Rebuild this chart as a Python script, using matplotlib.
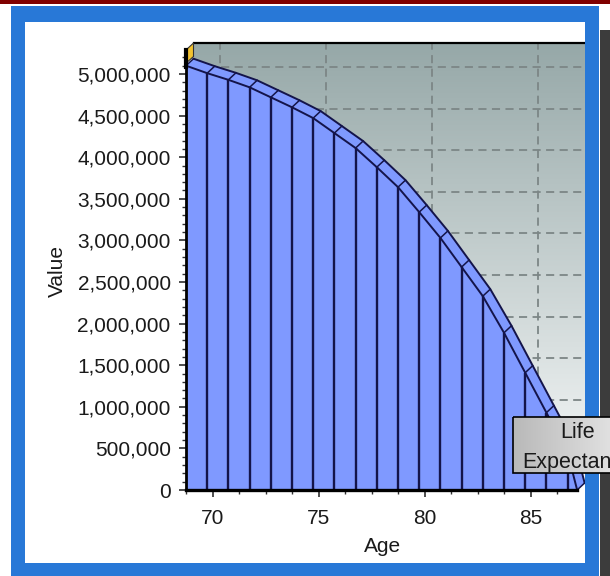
import numpy as np
import matplotlib
matplotlib.use('Agg')
import matplotlib.pyplot as plt
from matplotlib.ticker import FixedLocator, FuncFormatter
from matplotlib.patches import Polygon, Rectangle

# data
ages = [68.75, 69.75, 70.75, 71.75, 72.75, 73.75, 74.75, 75.75, 76.75, 77.75,
        78.75, 79.75, 80.75, 81.75, 82.75, 83.75, 84.75, 85.75, 86.75, 87.2]
values = [5100000, 5010000, 4930000, 4840000, 4720000, 4600000, 4470000, 4290000,
          4110000, 3880000, 3640000, 3340000, 3030000, 2680000, 2330000, 1890000,
          1410000, 930000, 450000, 0]
y_major = list(range(0, 5000001, 500000))
y_minor = list(range(0, 5200001, 100000))
x_major = [70, 75, 80, 85]
x_minor = [68.75 + 1.25 * i for i in range(15)]

plt.rcParams['font.family'] = 'Liberation Sans'
plt.rcParams['font.size'] = 15

W, H = 610, 576
fig = plt.figure(figsize=(W / 100, H / 100), dpi=100)
fig.patch.set_facecolor('white')

# main axes in pixel terms: left 186, right 586, top 43, bottom 490
ax = fig.add_axes([186 / W, (H - 490) / H, 400 / W, 447 / H])
px_x = 21.2   # pixels per year
px_y = 83.2e-6  # pixels per unit value
x0 = ages[0]
x1 = x0 + 400 / px_x
y1 = 447 / px_y
dx = 7.5 / px_x
dy = 7 / px_y
front_top = 440 / px_y

blue = '#7f99ff'
navy = '#14144a'

a = np.array(ages)
v = np.array(values, dtype=float)

# back wall with gradient
grad = np.linspace(0, 1, 256).reshape(-1, 1)
top_c = np.array([150, 168, 168]) / 255
bot_c = np.array([247, 249, 249]) / 255
img = top_c + (bot_c - top_c) * grad[:, :, None] * np.ones((1, 2, 1))
ax.imshow(img, extent=[x0 + dx, x1, dy, y1], aspect='auto', origin='upper', zorder=0)

# dashed grid on the back wall
for yv in y_major[1:]:
    ax.plot([x0 + dx, x1], [yv + dy, yv + dy], color='#7c8686', lw=1.3,
            dashes=(4.5, 3), zorder=1)
for xv in x_major:
    ax.plot([xv + dx, xv + dx], [dy, y1], color='#7c8686', lw=1.3,
            dashes=(4.5, 3), zorder=1)
ax.plot([x0 + dx, x1], [y1, y1], color='black', lw=1.6, zorder=2, clip_on=False)

# area front face
ax.fill_between(a, v, 0, color=blue, lw=0, zorder=3)
# 3d top ribbon
for i in range(len(a) - 1):
    quad = [(a[i], v[i]), (a[i + 1], v[i + 1]),
            (a[i + 1] + dx, v[i + 1] + dy), (a[i] + dx, v[i] + dy)]
    ax.add_patch(Polygon(quad, closed=True, facecolor=blue, edgecolor='none', zorder=3))
ax.plot(a, v, color=navy, lw=1.4, zorder=4)
ax.plot(a + dx, v + dy, color=navy, lw=1.4, zorder=4)
for xi, vi in zip(a, v):
    ax.plot([xi, xi + dx], [vi, vi + dy], color=navy, lw=1.1, zorder=4)
ax.vlines(a[1:-1], 0, v[1:-1], color=navy, lw=1.7, zorder=4)

# yellow marker at the top left
ax.add_patch(Polygon([(x0, 5130000), (x0, front_top), (x0 + dx, y1), (x0 + dx, 5210000)],
                     closed=True, facecolor='#f2c230', edgecolor='#333333', lw=0.8,
                     zorder=5, clip_on=False))
ax.plot([x0, x0], [5080000, front_top], color='black', lw=3, zorder=6, clip_on=False)

ax.set_xlim(x0, x1)
ax.set_ylim(0, y1)
ax.patch.set_alpha(0)
for s in ['top', 'right']:
    ax.spines[s].set_visible(False)
ax.spines['left'].set_bounds(0, front_top)
ax.spines['bottom'].set_bounds(x0, ages[-1])
ax.spines['left'].set_linewidth(2)
ax.spines['bottom'].set_linewidth(2.4)
ax.spines['left'].set_zorder(6)
ax.spines['bottom'].set_zorder(6)

ax.yaxis.set_major_locator(FixedLocator(y_major))
ax.yaxis.set_minor_locator(FixedLocator(y_minor))
ax.xaxis.set_major_locator(FixedLocator(x_major))
ax.xaxis.set_minor_locator(FixedLocator(x_minor))
ax.yaxis.set_major_formatter(FuncFormatter(lambda val, p: f'{int(val):,}'))
ax.tick_params(which='major', length=5, width=1.2, color='#303030', pad=6,
               labelsize=15, labelcolor='#1a1a1a')
ax.tick_params(axis='x', which='major', pad=9)
ax.tick_params(which='minor', length=3, width=1.0, color='#303030')

# overlay in pixel coords for frame, labels and the callout box
ov = fig.add_axes([0, 0, 1, 1], zorder=5)
ov.set_xlim(0, W)
ov.set_ylim(H, 0)
ov.axis('off')
ov.patch.set_alpha(0)

frame_blue = '#2878d7'
ov.add_patch(Rectangle((0, 0), W, 4, color='#800000', lw=0))
ov.add_patch(Rectangle((11, 6), 588, 16, color=frame_blue, lw=0))
ov.add_patch(Rectangle((11, 6), 14, 570, color=frame_blue, lw=0))
ov.add_patch(Rectangle((585, 6), 14, 570, color=frame_blue, lw=0))
ov.add_patch(Rectangle((11, 563), 588, 13, color=frame_blue, lw=0))
ov.add_patch(Rectangle((600, 30), 10, 546, color='#3c3c3c', lw=0))

ov.text(57, 271, 'Value', rotation=90, ha='center', va='center', fontsize=15,
        color='#1a1a1a')
ov.text(383, 546, 'Age', ha='center', va='center', fontsize=15, color='#1a1a1a')

# "Life Expectancy" callout
bg = np.linspace(0, 1, 128).reshape(1, -1)
lc = np.array([185, 185, 185]) / 255
rc = np.array([240, 240, 240]) / 255
box_img = lc + (rc - lc) * bg[:, :, None] * np.ones((2, 1, 1))
ov.imshow(box_img, extent=(513, 650, 473, 417), aspect='auto', zorder=6)
ov.add_patch(Rectangle((513, 417), 137, 56, fill=False, ec='black', lw=1.2, zorder=7))
ov.text(578, 438, 'Life', ha='center', va='baseline', fontsize=15.5,
        color='#1a1a1a', zorder=8)
ov.text(578, 468, 'Expectancy', ha='center', va='baseline', fontsize=15.5,
        color='#1a1a1a', zorder=8)
ov.set_xlim(0, W)
ov.set_ylim(H, 0)

fig.savefig('out.png', dpi=100)
